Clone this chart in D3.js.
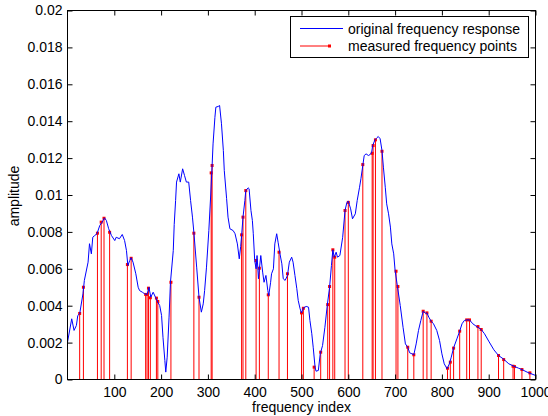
<!DOCTYPE html>
<html>
<head>
<meta charset="utf-8">
<script src="https://cdn.jsdelivr.net/npm/d3@7"></script>
<style>
html,body{margin:0;padding:0;background:#fff;}
svg{display:block;font-family:"Liberation Sans",Arial,Helvetica,sans-serif;}
</style>
</head>
<body>
<svg id="chart" width="548" height="416"></svg>
<script>
// ---- data ----
const curveIndex = [0,9,14,19,22,26,33,36,44,47,51,54,58,63,69,74,79,83,88,94,101,104,111,117,122,126,129,133,136,140,146,151,154,160,165,170,174,178,183,188,193,197,201,204,208,210,213,217,220,226,228,231,233,238,241,246,250,254,259,263,267,270,276,281,286,290,293,297,302,306,309,311,315,317,322,325,329,333,335,340,343,347,354,358,363,367,370,372,375,379,381,386,388,392,395,397,400,403,405,408,410,413,417,420,424,428,430,434,436,440,443,447,450,454,458,461,465,470,474,479,482,486,490,493,497,500,504,510,515,518,522,525,529,531,536,540,545,550,555,560,564,567,570,574,577,582,588,593,597,600,605,609,615,619,624,627,631,634,638,643,647,650,652,657,661,664,668,672,675,679,682,686,690,693,697,700,705,711,717,722,727,731,736,740,745,750,755,760,765,768,772,777,782,789,795,800,805,811,816,820,825,832,838,843,848,853,859,866,871,877,884,891,900,911,921,931,943,954,964,971,982,988,1000];
const curveAmp = [0.00202,0.00329,0.00266,0.00293,0.00347,0.00356,0.00464,0.00537,0.00636,0.00736,0.00681,0.00771,0.0078,0.0079,0.00835,0.00853,0.00876,0.00862,0.00817,0.0078,0.00753,0.00771,0.00763,0.00786,0.00753,0.00699,0.00618,0.00645,0.0066,0.00636,0.00573,0.005,0.00482,0.00473,0.00464,0.00461,0.005,0.00446,0.00473,0.00446,0.00419,0.00401,0.00347,0.00229,0.00103,0.0004,0.00121,0.00338,0.00527,0.00699,0.0084,0.0097,0.0107,0.01115,0.0107,0.01142,0.01106,0.0107,0.0107,0.0097,0.0088,0.00798,0.00609,0.00446,0.00365,0.0041,0.00482,0.00609,0.00807,0.0100,0.0116,0.01277,0.01421,0.01476,0.0148,0.01485,0.01386,0.01241,0.01133,0.0098,0.0088,0.00817,0.00807,0.0079,0.00735,0.00654,0.0072,0.0078,0.0088,0.0097,0.01024,0.01039,0.01034,0.00916,0.00862,0.0079,0.00645,0.006,0.00672,0.00546,0.006,0.00672,0.00582,0.00527,0.00564,0.00482,0.00455,0.00527,0.00573,0.006,0.00735,0.0079,0.00744,0.00681,0.00627,0.00546,0.00537,0.00564,0.00636,0.00663,0.00636,0.00564,0.00492,0.00428,0.00383,0.00361,0.00388,0.00396,0.00392,0.0032,0.00248,0.00175,0.00067,0.00045,0.00049,0.00139,0.00184,0.00283,0.00401,0.005,0.00618,0.00703,0.00663,0.0069,0.00663,0.00672,0.00771,0.00916,0.0096,0.00966,0.00925,0.00871,0.00898,0.0097,0.01042,0.01088,0.0116,0.01214,0.01223,0.01214,0.0122,0.01232,0.01268,0.01299,0.0131,0.01317,0.01305,0.01241,0.01151,0.01042,0.00952,0.00898,0.00826,0.00735,0.00681,0.00591,0.00504,0.00401,0.00283,0.00193,0.00175,0.00145,0.00139,0.00134,0.00193,0.00266,0.0032,0.0037,0.00359,0.00361,0.00338,0.00316,0.00302,0.00266,0.00211,0.00139,0.00085,0.00058,0.00085,0.00121,0.00172,0.0022,0.00262,0.00302,0.0032,0.00323,0.00323,0.00302,0.00293,0.00283,0.00271,0.00248,0.00208,0.00161,0.0013,0.00112,0.00085,0.00072,0.00061,0.00054,0.0004,0.00034,0.00022];

const measuredIndex = [26,34,64,72,78,90,128,136,167,170,173,177,190,193,221,270,281,307,309,372,375,381,403,410,429,452,470,500,504,527,541,556,560,567,571,593,600,631,651,653,658,672,702,706,727,740,760,768,777,812,818,825,838,853,859,877,884,921,932,952,955,971,988];
const measuredAmp = [0.00358,0.005,0.00793,0.00853,0.00874,0.00798,0.00623,0.00657,0.00461,0.00461,0.00495,0.00443,0.00441,0.00423,0.00527,0.00793,0.00446,0.0112,0.0116,0.00784,0.0088,0.01024,0.00645,0.00603,0.00459,0.0069,0.00573,0.00361,0.00386,0.00067,0.00148,0.00406,0.00504,0.00703,0.00663,0.00916,0.0096,0.01165,0.01226,0.01268,0.01299,0.01237,0.00587,0.00504,0.00175,0.00134,0.0037,0.00361,0.00316,0.00061,0.00094,0.0017,0.00262,0.00323,0.00323,0.00287,0.00271,0.0013,0.00108,0.00072,0.0007,0.00054,0.00036];

const xTicks = [100,200,300,400,500,600,700,800,900,1000];
const xTickLabels = ["100","200","300","400","500","600","700","800","900","1000"];
const yTicks = [0,0.002,0.004,0.006,0.008,0.01,0.012,0.014,0.016,0.018,0.02];
const yTickLabels = ["0","0.002","0.004","0.006","0.008","0.01","0.012","0.014","0.016","0.018","0.02"];
const legendLabels = ["original frequency response","measured frequency points"];
const xLabel = "frequency index";
const yLabel = "amplitude";

// ---- layout ----
const L = 67.5, R = 535.5, T = 10.5, B = 379.5;
const svg = d3.select("#chart");
const x = d3.scaleLinear().domain([0,1000]).range([L,R]);
const y = d3.scaleLinear().domain([0,0.02]).range([B,T]);
const FS = "14px";

// stems
const stems = svg.append("g");
measuredIndex.forEach((d,i)=>{
  stems.append("line")
    .attr("x1",x(d)).attr("x2",x(d))
    .attr("y1",y(0)).attr("y2",y(measuredAmp[i]))
    .attr("stroke","#ff0000").attr("stroke-width",1);
});
// curve
const line = d3.line().x((d,i)=>x(curveIndex[i])).y((d,i)=>y(curveAmp[i]));
svg.append("path").datum(curveAmp)
  .attr("d",line).attr("fill","none").attr("stroke","#0000ff").attr("stroke-width",1);
// markers
measuredIndex.forEach((d,i)=>{
  stems.append("rect")
    .attr("x",x(d)-1.5).attr("y",y(measuredAmp[i])-1.5)
    .attr("width",3).attr("height",3).attr("fill","#ff0000");
});

// axes
function styleAxis(g){
  g.select(".domain").remove();
  g.selectAll("line").attr("stroke","#000");
  g.selectAll("text").attr("font-size",FS).attr("fill","#000")
    .attr("font-family","'Liberation Sans',Arial,sans-serif");
}
svg.append("g").attr("transform",`translate(0,${B})`)
  .call(d3.axisBottom(x).tickValues(xTicks).tickFormat((d,i)=>xTickLabels[i]).tickSizeInner(-5).tickSizeOuter(0).tickPadding(8))
  .call(styleAxis);
svg.append("g").attr("transform",`translate(0,${T})`)
  .call(d3.axisTop(x).tickValues(xTicks).tickFormat("").tickSizeInner(-5).tickSizeOuter(0))
  .call(styleAxis);
svg.append("g").attr("transform",`translate(${L},0)`)
  .call(d3.axisLeft(y).tickValues(yTicks).tickFormat((d,i)=>yTickLabels[i]).tickSizeInner(-5).tickSizeOuter(0).tickPadding(5))
  .call(styleAxis);
svg.append("g").attr("transform",`translate(${R},0)`)
  .call(d3.axisRight(y).tickValues(yTicks).tickFormat("").tickSizeInner(-5).tickSizeOuter(0))
  .call(styleAxis);
svg.append("rect").attr("x",L).attr("y",T).attr("width",R-L).attr("height",B-T)
  .attr("fill","none").attr("stroke","#000").attr("stroke-width",1);

// labels
svg.append("text").attr("x",(L+R)/2).attr("y",412).attr("text-anchor","middle")
  .attr("font-size",FS).text(xLabel);
svg.append("text").attr("transform","translate(19,196) rotate(-90)").attr("text-anchor","middle")
  .attr("font-size",FS).text(yLabel);

// legend
const lg = svg.append("g");
lg.append("rect").attr("x",290.5).attr("y",16.5).attr("width",238).attr("height",41)
  .attr("fill","#fff").attr("stroke","#000").attr("stroke-width",1);
lg.append("line").attr("x1",300).attr("x2",343).attr("y1",28.5).attr("y2",28.5)
  .attr("stroke","#0000ff").attr("stroke-width",1);
lg.append("line").attr("x1",300).attr("x2",330).attr("y1",46).attr("y2",46)
  .attr("stroke","#ff0000").attr("stroke-width",1);
lg.append("rect").attr("x",328).attr("y",44.5).attr("width",3).attr("height",3).attr("fill","#ff0000");
lg.append("text").attr("x",348).attr("y",33.5).attr("font-size",FS).text(legendLabels[0]);
lg.append("text").attr("x",348).attr("y",51).attr("font-size",FS).text(legendLabels[1]);
</script>
</body>
</html>
